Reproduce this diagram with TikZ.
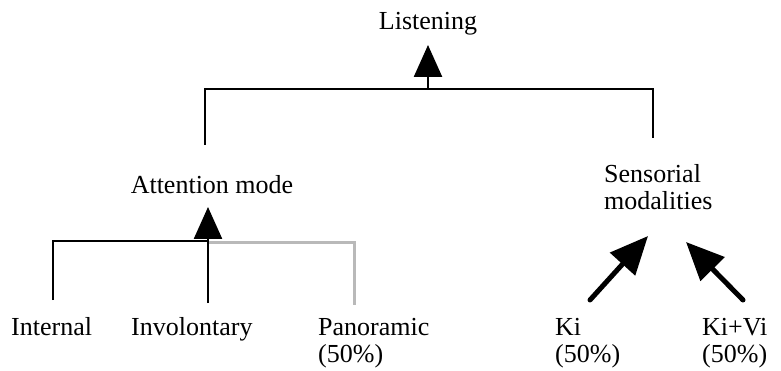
\documentclass[tikz,border=0pt]{standalone}
\usepackage{fontspec}
\setmainfont{Liberation Serif}
\usetikzlibrary{arrows.meta}
\begin{document}
\begin{tikzpicture}[x=1pt,y=-1pt,
  lbl/.style={inner sep=0pt,anchor=base west,font=\fontsize{26}{27}\selectfont},
  tline/.style={line width=2.5pt},
  gline/.style={line width=3pt,draw=gray!55},
  uparr/.style={line width=2.5pt,-{Triangle[width=28pt,length=32pt]}},
  diagarr/.style={line width=5pt,line cap=round,-{Triangle[width=33pt,length=38pt]}}]
\useasboundingbox (0,0) rectangle (781,371);
% labels
\node[lbl,anchor=base] (L) at (428,30) {Listening};
\node[lbl,anchor=base] (A) at (212,194) {Attention mode};
\node[lbl,align=left] (S) at (604,210) {Sensorial\\modalities};
\node[lbl] (I1) at (11,335) {Internal};
\node[lbl] (I2) at (131,335) {Involontary};
\node[lbl,align=left] (P) at (318,362) {Panoramic\\(50\%)};
\node[lbl,align=left] (K1) at (555,362) {Ki\\(50\%)};
\node[lbl,align=left] (K2) at (702,362) {Ki+Vi\\(50\%)};
% coordinates
\coordinate (tl) at (205,145);
\coordinate (tlc) at (205,89);
\coordinate (trc) at (653,89);
\coordinate (tr) at (653,138);
\coordinate (tj) at (428,89);
\coordinate (ltip) at (428,45);
\coordinate (al) at (53,300);
\coordinate (alc) at (53,241);
\coordinate (aj) at (208,241);
\coordinate (am) at (208,303);
\coordinate (atip) at (208,207);
\coordinate (gj) at (208,242.5);
\coordinate (gc) at (354,242.5);
\coordinate (gr) at (354,305);
\coordinate (k1t) at (590,300);
\coordinate (k1h) at (648,236);
\coordinate (k2t) at (743,300);
\coordinate (k2h) at (686,242);
% top bracket
\draw[tline] (tl) -- (tlc) -- (trc) -- (tr);
\draw[uparr] (tj) -- (ltip);
% attention bracket
\draw[gline] (gj) -- (gc) -- (gr);
\draw[tline] (al) -- (alc) -- (aj);
\draw[uparr] (am) -- (atip);
% sensorial arrows
\draw[diagarr] (k1t) -- (k1h);
\draw[diagarr] (k2t) -- (k2h);
\end{tikzpicture}
\end{document}
